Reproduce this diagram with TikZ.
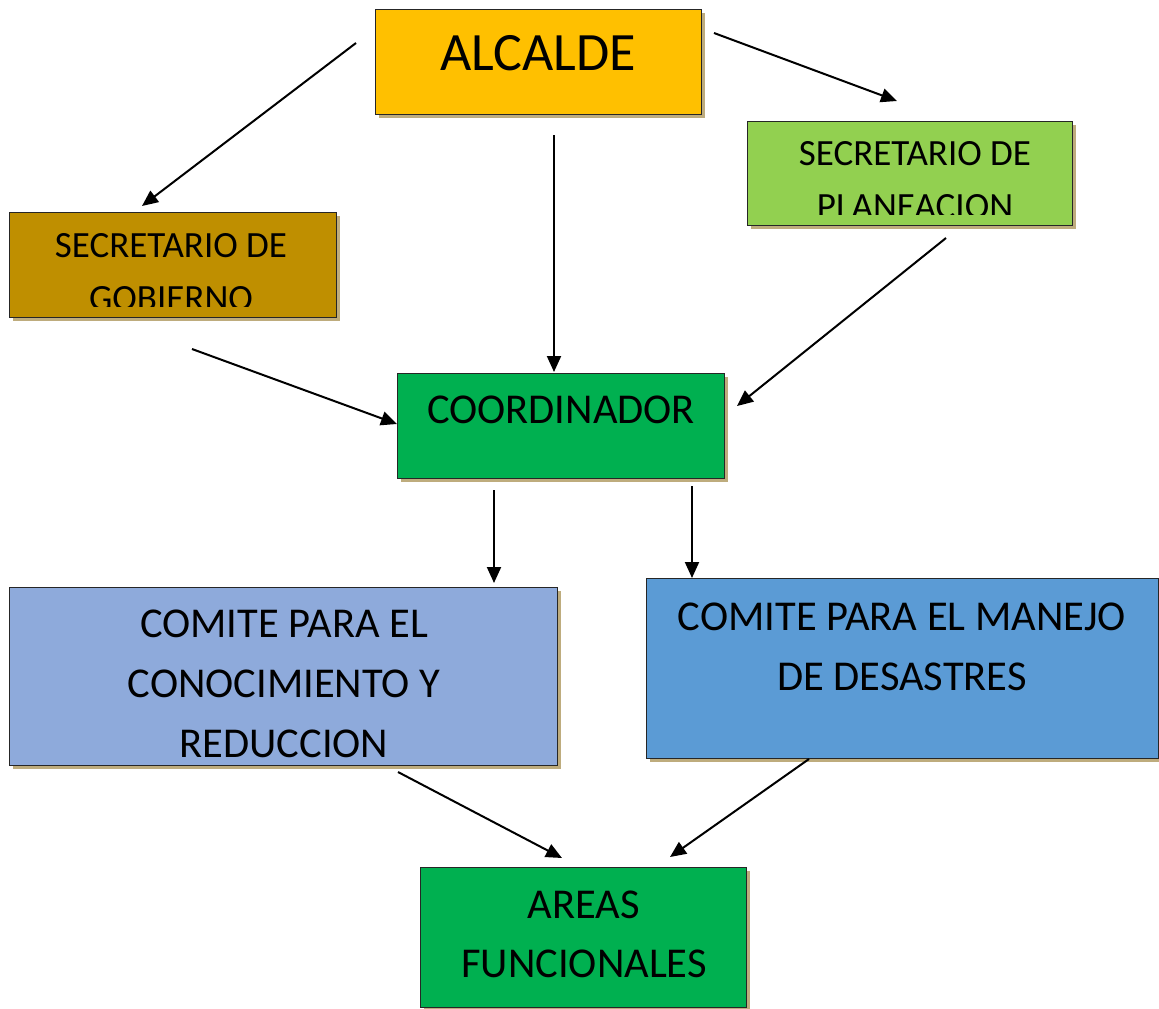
\documentclass[tikz,border=0pt]{standalone}
\usepackage{fontspec}
\setmainfont{Carlito}
\usetikzlibrary{arrows.meta,shadows}
\definecolor{shadowc}{RGB}{190,172,125}
\definecolor{calc}{HTML}{FFC000}
\definecolor{cgov}{HTML}{BF8F00}
\definecolor{cplan}{HTML}{92D050}
\definecolor{cgreen}{HTML}{00B050}
\definecolor{cconoc}{HTML}{8EAADB}
\definecolor{cmanejo}{HTML}{5B9BD5}
\begin{document}
\begin{tikzpicture}[x=1pt,y=-1pt,
  box/.style={draw=black!85, line width=0.9pt, inner sep=0pt, outer sep=0pt,
    general shadow={fill=shadowc, shadow xshift=3.5pt, shadow yshift=-3.5pt}},
  lbl/.style={anchor=base, inner sep=0pt, text=black},
  fhuge/.style={font=\fontsize{54}{64}\selectfont},
  fbig/.style={font=\fontsize{42.5}{50}\selectfont},
  fmid/.style={font=\fontsize{37}{44}\selectfont},
  conn/.style={line width=2pt, -{Triangle[length=16pt,width=14pt]}}]
\useasboundingbox (0,0) rectangle (1159,1009);

% boxes
\node[box, fill=calc, minimum width=326pt, minimum height=105pt] (alc) at (538,61.5) {};
\node[box, fill=cgov, minimum width=327pt, minimum height=105pt] (gov) at (172.5,264.5) {};
\node[box, fill=cplan, minimum width=325pt, minimum height=104pt] (plan) at (909.5,173) {};
\node[box, fill=cgreen, minimum width=327pt, minimum height=105pt] (coord) at (560.5,425.5) {};
\node[box, fill=cconoc, minimum width=548pt, minimum height=178pt] (conoc) at (283,676) {};
\node[box, fill=cmanejo, minimum width=512pt, minimum height=180pt] (manejo) at (902,668) {};
\node[box, fill=cgreen, minimum width=326pt, minimum height=140pt] (areas) at (583,937) {};

% texts
\node[lbl, fhuge] (alct) at (538,70) {ALCALDE};
\begin{scope}
  \clip (gov.north west) rectangle (336,306);
  \node[lbl, fmid] (govt1) at (171,257) {SECRETARIO DE};
  \node[lbl, fmid] (govt2) at (171,310) {GOBIERNO};
\end{scope}
\begin{scope}
  \clip (plan.north west) rectangle (1072,214);
  \node[lbl, fmid] (plant1) at (915,165) {SECRETARIO DE};
  \node[lbl, fmid] (plant2) at (915,218) {PLANEACION};
\end{scope}
\node[lbl, fbig] (coordt) at (561,423) {COORDINADOR};
\node[lbl, fbig] (conoct1) at (284,637) {COMITE PARA EL};
\node[lbl, fbig] (conoct2) at (284,697) {CONOCIMIENTO Y};
\node[lbl, fbig] (conoct3) at (284,757) {REDUCCION};
\node[lbl, fbig] (manejot1) at (902,630) {COMITE PARA EL MANEJO};
\node[lbl, fbig] (manejot2) at (902,690) {DE DESASTRES};
\node[lbl, fbig] (areast1) at (584,918) {AREAS};
\node[lbl, fbig] (areast2) at (584,977) {FUNCIONALES};

% connector end points
\coordinate (a1s) at (356,43);  \coordinate (a1e) at (142,206);
\coordinate (a2s) at (714,33);  \coordinate (a2e) at (897,101);
\coordinate (a3s) at (554,135); \coordinate (a3e) at (554,372);
\coordinate (a4s) at (192,349); \coordinate (a4e) at (397,424);
\coordinate (a5s) at (946,238); \coordinate (a5e) at (737,406);
\coordinate (a6s) at (494,490); \coordinate (a6e) at (494,583);
\coordinate (a7s) at (692,486); \coordinate (a7e) at (692,578);
\coordinate (a8s) at (398,772); \coordinate (a8e) at (562,858);
\coordinate (a9s) at (809,759); \coordinate (a9e) at (670,857);

\draw[conn] (a1s) -- (a1e);
\draw[conn] (a2s) -- (a2e);
\draw[conn] (a3s) -- (a3e);
\draw[conn] (a4s) -- (a4e);
\draw[conn] (a5s) -- (a5e);
\draw[conn] (a6s) -- (a6e);
\draw[conn] (a7s) -- (a7e);
\draw[conn] (a8s) -- (a8e);
\draw[conn] (a9s) -- (a9e);
\end{tikzpicture}
\end{document}
